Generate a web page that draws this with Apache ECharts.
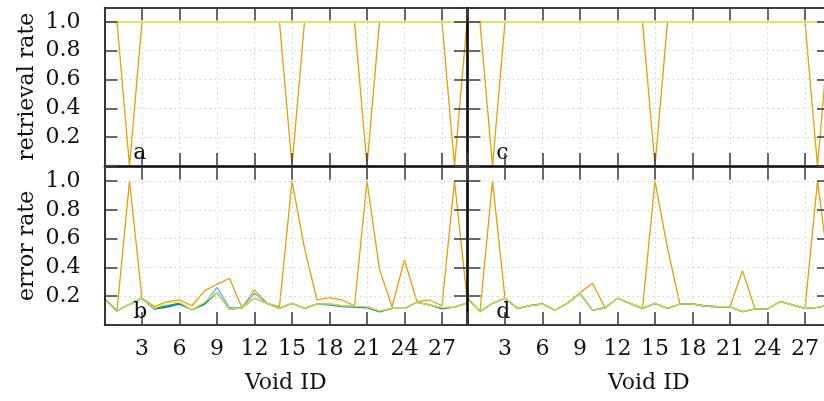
<!DOCTYPE html>
<html>
<head>
<meta charset="utf-8">
<script src="https://cdn.jsdelivr.net/npm/echarts@6/dist/echarts.min.js"></script>
<style>
  html, body { margin: 0; padding: 0; background: #fff; }
  #chart { width: 824px; height: 401px; }
</style>
</head>
<body>
<div id="chart"></div>
<script>
// x axis: void ids
const voidIds = [0,1,2,3,4,5,6,7,8,9,10,11,12,13,14,15,16,17,18,19,20,21,22,23,24,25,26,27,28,29]

// retrieval rate, panel a
const retrA_orange = [1,1,0,1,1,1,1,1,1,1,1,1,1,1,1,0,1,1,1,1,1,0,1,1,1,1,1,1,0,1]
const retrA_other  = [1,1,1,1,1,1,1,1,1,1,1,1,1,1,1,1,1,1,1,1,1,1,1,1,1,1,1,1,1,1]
// retrieval rate, panel c
const retrC_orange = [1,1,0,1,1,1,1,1,1,1,1,1,1,1,1,0,1,1,1,1,1,1,1,1,1,1,1,1,0,1]
const retrC_other  = [1,1,1,1,1,1,1,1,1,1,1,1,1,1,1,1,1,1,1,1,1,1,1,1,1,1,1,1,1,1]

// error rate, panel b
const errB_orange = [0.186,0.10,1.0,0.186,0.128,0.162,0.174,0.134,0.237,0.283,0.325,0.12,0.244,0.151,0.128,1.0,0.533,0.174,0.19,0.174,0.134,1.0,0.387,0.127,0.452,0.162,0.174,0.134,1.0,0.19]
const errB_sky    = [0.186,0.097,0.144,0.186,0.116,0.134,0.151,0.106,0.15,0.262,0.12,0.12,0.22,0.151,0.116,0.151,0.116,0.146,0.146,0.134,0.13,0.127,0.097,0.116,0.116,0.158,0.14,0.12,0.124,0.153]
const errB_blue   = [0.186,0.097,0.144,0.186,0.11,0.125,0.145,0.106,0.145,0.227,0.109,0.12,0.186,0.151,0.116,0.151,0.116,0.146,0.14,0.128,0.124,0.12,0.092,0.116,0.116,0.158,0.14,0.112,0.124,0.153]
const errB_green  = [0.186,0.097,0.144,0.186,0.116,0.134,0.151,0.106,0.145,0.227,0.109,0.12,0.186,0.151,0.116,0.151,0.116,0.146,0.146,0.134,0.13,0.127,0.097,0.116,0.116,0.158,0.14,0.12,0.124,0.153]
const errB_yellow = [0.186,0.097,0.144,0.186,0.116,0.155,0.16,0.106,0.16,0.227,0.109,0.12,0.186,0.151,0.116,0.151,0.116,0.146,0.146,0.134,0.13,0.127,0.097,0.116,0.116,0.158,0.14,0.12,0.124,0.153]

// error rate, panel d
const errD_orange = [0.186,0.093,1.0,0.186,0.116,0.134,0.146,0.104,0.151,0.225,0.29,0.12,0.186,0.151,0.116,1.0,0.533,0.146,0.146,0.132,0.127,0.127,0.378,0.111,0.111,0.162,0.14,0.116,1.0,0.33]
const errD_other  = [0.186,0.093,0.151,0.186,0.116,0.134,0.146,0.104,0.151,0.22,0.104,0.12,0.186,0.151,0.116,0.151,0.116,0.146,0.146,0.132,0.127,0.127,0.093,0.111,0.111,0.162,0.14,0.116,0.123,0.14]

const yTickLabels = ['0.2', '0.4', '0.6', '0.8', '1.0']
const xTickLabels = ['3', '6', '9', '12', '15', '18', '21', '24', '27']

const FONT = 'DejaVu Serif'
const colors = { orange: '#E69F00', sky: '#56B4E9', blue: '#0072B2', green: '#009E73', yellow: '#F0E442' }

// grids: 0 = a (top left), 1 = c (top right), 2 = b (bottom left), 3 = d (bottom right)
// the right column runs past the canvas edge, as in the original figure
const grids = [
  { left: 104.5, top: 7.5, width: 362.5, height: 158.5 },
  { left: 467.5, top: 7.5, width: 362.5, height: 158.5 },
  { left: 104.5, top: 166.8, width: 362.5, height: 158.2 },
  { left: 467.5, top: 166.8, width: 362.5, height: 158.2 }
].map(g => Object.assign(g, { containLabel: false, outerBoundsMode: 'none' }))

const frameLine = { show: true, onZero: false, lineStyle: { color: '#000', width: 1.6 } }
const tickStyle = { show: true, inside: true, length: 13, lineStyle: { color: '#3a3a3a', width: 1.5 } }
const splitStyle = { show: true, showMinLine: false, showMaxLine: false, lineStyle: { color: '#cfcfcf', width: 1, type: [1.5, 3.5] } }

let xAxis = []
let yAxis = []
grids.forEach((g, gi) => {
  let bottomRow = gi >= 2
  let leftCol = gi % 2 === 0
  xAxis.push({
    type: 'value', gridIndex: gi, position: 'bottom', min: 0, max: 29, interval: 3, z: 5,
    axisLine: frameLine, axisTick: tickStyle, splitLine: splitStyle,
    axisLabel: {
      show: bottomRow, margin: 13, color: '#111', fontFamily: FONT, fontSize: 22,
      formatter: v => xTickLabels.indexOf(String(v)) >= 0 ? String(v) : ''
    },
    name: bottomRow ? 'Void ID' : '', nameLocation: 'middle', nameGap: 47,
    nameTextStyle: { color: '#111', fontFamily: FONT, fontSize: 22 }
  })
  xAxis.push({
    type: 'value', gridIndex: gi, position: 'top', min: 0, max: 29, interval: 3, z: 5,
    axisLine: frameLine, axisTick: tickStyle, splitLine: { show: false }, axisLabel: { show: false }
  })
  yAxis.push({
    type: 'value', gridIndex: gi, position: 'left', min: 0, max: 1.1, interval: 0.2, z: 5,
    axisLine: frameLine, axisTick: tickStyle, splitLine: splitStyle,
    axisLabel: {
      show: leftCol, margin: 24, color: '#111', fontFamily: FONT, fontSize: 22,
      formatter: v => yTickLabels.indexOf(v.toFixed(1)) >= 0 && v > 0.01 && v < 1.05 ? v.toFixed(1) : ''
    },
    name: leftCol ? (bottomRow ? 'error rate' : 'retrieval rate') : '',
    nameLocation: 'middle', nameGap: 66,
    nameTextStyle: { color: '#111', fontFamily: FONT, fontSize: 22 }
  })
  yAxis.push({
    type: 'value', gridIndex: gi, position: 'right', min: 0, max: 1.1, interval: 0.2, z: 5,
    axisLine: frameLine, axisTick: tickStyle, splitLine: { show: false }, axisLabel: { show: false }
  })
})

function line(gi, values, color, width, opacity) {
  return {
    type: 'line', xAxisIndex: gi * 2, yAxisIndex: gi * 2,
    data: voidIds.map((id, i) => [id, values[i]]),
    showSymbol: false, symbol: 'none', silent: true, animation: false,
    lineStyle: { color: color, width: width, opacity: opacity || 1 },
    clip: true
  }
}

let series = [
  line(0, retrA_orange, colors.orange, 1.3),
  line(0, retrA_other, '#b5b5b5', 1.2),
  line(0, retrA_other, colors.yellow, 2),
  line(1, retrC_orange, colors.orange, 1.3),
  line(1, retrC_other, '#b5b5b5', 1.2),
  line(1, retrC_other, colors.yellow, 2),
  line(2, errB_orange, colors.orange, 1.3),
  line(2, errB_sky, colors.sky, 1.3),
  line(2, errB_blue, colors.blue, 1.3),
  line(2, errB_green, colors.green, 1.2),
  line(2, errB_yellow, colors.yellow, 1.6, 0.85),
  line(3, errD_orange, colors.orange, 1.3),
  line(3, errD_other, colors.sky, 1.3),
  line(3, errD_other, colors.blue, 1.3),
  line(3, errD_other, colors.green, 1.2),
  line(3, errD_other, colors.yellow, 1.6, 0.85)
]

const chart = echarts.init(document.getElementById('chart'), null, { renderer: 'canvas' })
chart.setOption({
  animation: false,
  grid: grids,
  xAxis: xAxis,
  yAxis: yAxis,
  series: series
})

// panel letters, anchored in data coordinates of each grid
const panelLetters = ['a', 'c', 'b', 'd']
let graphic = panelLetters.map((letter, gi) => {
  let p = chart.convertToPixel({ gridIndex: gi }, [2.3, 0])
  return {
    type: 'text', left: p[0], top: p[1] - 24, silent: true, z: 100,
    style: { text: letter, fill: '#111', font: '22px "' + FONT + '"' }
  }
})
chart.setOption({ graphic: graphic })
</script>
</body>
</html>
